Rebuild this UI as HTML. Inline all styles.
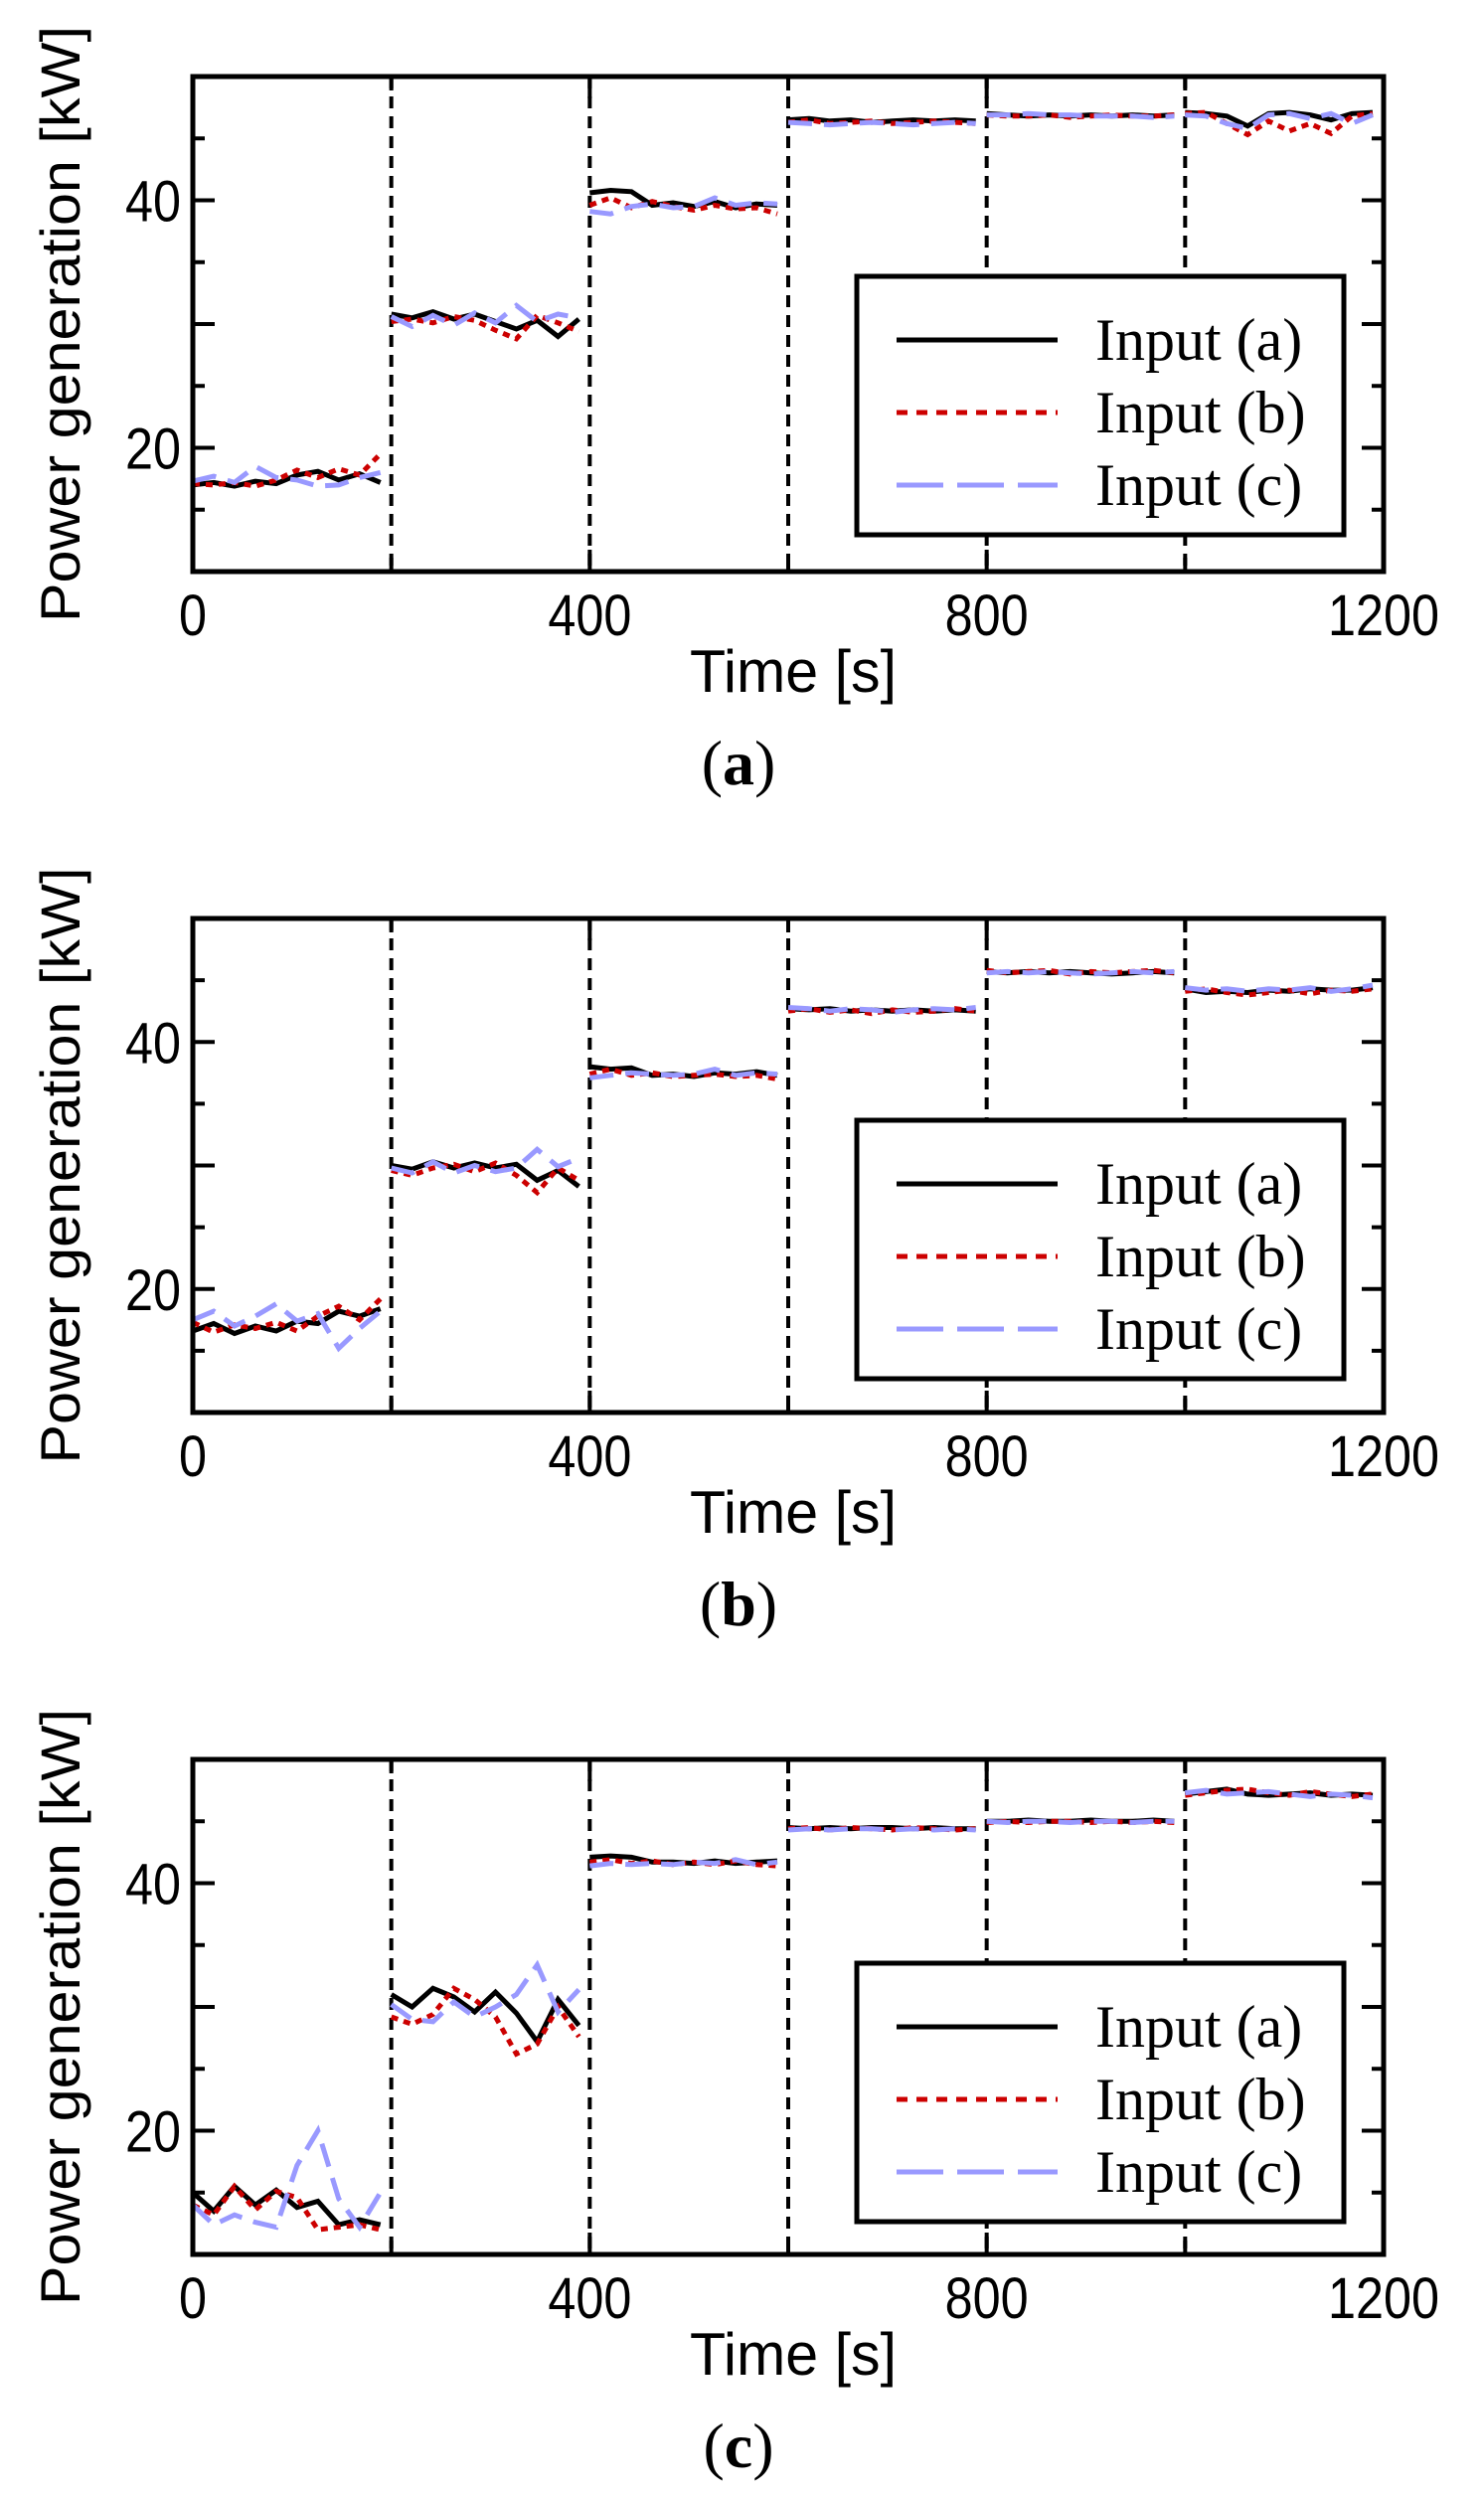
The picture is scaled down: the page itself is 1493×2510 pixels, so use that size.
<!DOCTYPE html>
<html><head><meta charset="utf-8">
<style>
html,body{margin:0;padding:0;background:#fff;}
svg{display:block;}
</style></head>
<body>
<svg id="fig" width="1493" height="2510" viewBox="0 0 1493 2510" xmlns="http://www.w3.org/2000/svg"></svg>
<script>
// time samples within a 200 s step (10 points per step)
const stepOffsets = [0, 21, 42, 63, 84, 105, 126, 147, 168, 189];
const xTicks = [0, 200, 400, 600, 800, 1000, 1200];
const xTickLabels = ["0", "", "400", "", "800", "", "1200"];
const yTicks = [15, 20, 25, 30, 35, 40, 45];
const yTickLabels = ["", "20", "", "", "", "40", ""];
const segmentBoundaries = [200, 400, 600, 800, 1000];
const seriesNames = ["Input (a)", "Input (b)", "Input (c)"];

// Panel (a)
const panelA_inputA = [17.0,17.2,16.9,17.3,17.1,17.8,18.1,17.4,17.9,17.2, 30.8,30.5,31.0,30.4,30.8,30.2,29.6,30.3,29.0,30.4, 40.6,40.8,40.7,39.6,39.8,39.5,39.9,39.4,39.7,39.6, 46.5,46.6,46.4,46.5,46.3,46.4,46.5,46.4,46.5,46.4, 47.0,46.9,46.8,46.9,46.8,46.9,46.8,46.9,46.8,46.9, 47.1,47.0,46.8,46.0,47.0,47.1,46.9,46.5,47.0,47.1];
const panelA_inputB = [17.1,17.0,17.2,16.9,17.4,18.2,17.6,18.3,17.8,19.5, 30.2,30.4,30.1,30.6,30.3,29.5,28.8,30.7,30.1,29.4, 39.6,40.2,39.4,39.9,39.5,39.2,39.6,39.3,39.4,38.9, 46.3,46.5,46.2,46.3,46.4,46.2,46.3,46.4,46.3,46.2, 46.9,46.8,46.8,46.9,46.7,46.8,46.9,46.8,46.8,46.9, 47.0,47.1,46.2,45.3,46.4,45.6,46.2,45.4,46.8,47.0];
const panelA_inputC = [17.3,17.7,17.2,18.5,17.6,17.4,16.9,17.0,17.6,18.0, 30.6,29.8,30.7,29.9,30.9,30.1,31.5,30.2,30.8,30.5, 39.1,38.9,39.5,39.7,39.4,39.5,40.2,39.6,39.8,39.7, 46.3,46.2,46.1,46.2,46.3,46.2,46.1,46.2,46.3,46.2, 46.9,46.9,47.0,46.9,46.9,46.8,46.8,46.8,46.7,46.8, 46.9,46.8,46.2,45.8,46.9,47.0,46.6,47.0,46.2,46.9];
// Panel (b)
const panelB_inputA = [16.6,17.2,16.4,17.0,16.6,17.4,17.2,18.2,17.8,18.4, 30.0,29.7,30.3,29.8,30.2,29.8,30.1,28.8,29.6,28.3, 38.0,37.8,37.9,37.3,37.4,37.2,37.5,37.4,37.6,37.3, 42.7,42.6,42.7,42.5,42.6,42.5,42.6,42.5,42.6,42.5, 45.7,45.6,45.7,45.6,45.7,45.6,45.5,45.6,45.7,45.6, 44.3,44.0,44.1,44.0,44.2,44.1,44.3,44.2,44.2,44.4];
const panelB_inputB = [17.3,16.5,17.1,16.8,17.3,16.6,17.8,18.6,17.5,19.2, 29.6,29.2,29.8,30.1,29.5,30.2,29.2,27.8,29.8,28.8, 37.4,37.8,37.3,37.5,37.2,37.3,37.4,37.2,37.3,37.0, 42.5,42.7,42.4,42.6,42.3,42.6,42.4,42.5,42.7,42.5, 45.8,45.6,45.7,45.8,45.5,45.7,45.6,45.7,45.8,45.6, 44.1,44.3,44.0,43.8,44.0,44.2,43.9,44.2,44.1,44.3];
const panelB_inputC = [17.5,18.2,17.0,17.8,18.8,17.4,18.0,15.2,16.8,18.2, 29.8,29.4,30.3,29.4,30.0,29.5,29.8,31.3,29.9,30.6, 37.1,37.3,37.5,37.4,37.3,37.4,37.8,37.3,37.5,37.4, 42.8,42.7,42.5,42.7,42.6,42.4,42.6,42.7,42.6,42.8, 45.6,45.7,45.6,45.7,45.6,45.5,45.6,45.7,45.6,45.7, 44.4,44.2,44.3,44.1,44.3,44.2,44.4,44.1,44.3,44.6];
// Panel (c)
const panelC_inputA = [15.0,13.5,15.5,14.0,15.2,13.8,14.3,12.4,12.8,12.4, 31.0,30.0,31.5,30.8,29.6,31.2,29.5,27.2,30.6,28.5, 42.1,42.2,42.1,41.7,41.7,41.6,41.8,41.6,41.7,41.8, 44.5,44.4,44.5,44.4,44.5,44.5,44.4,44.5,44.4,44.4, 45.0,45.0,45.1,45.0,45.0,45.1,45.0,45.0,45.1,45.0, 47.2,47.4,47.6,47.2,47.1,47.2,47.3,47.1,47.2,47.1];
const panelC_inputB = [14.0,13.2,15.5,13.6,15.1,14.6,12.0,12.2,12.4,12.0, 29.2,28.6,29.4,31.5,30.6,29.2,26.2,27.0,30.0,27.6, 41.7,41.9,41.6,41.8,41.5,41.7,41.5,41.8,41.5,41.4, 44.4,44.5,44.3,44.5,44.4,44.3,44.5,44.4,44.3,44.4, 44.9,45.0,44.9,45.0,45.0,44.9,45.0,44.9,45.0,44.9, 47.1,47.3,47.5,47.6,47.3,47.1,47.4,47.2,47.0,47.2];
const panelC_inputC = [14.0,12.4,13.2,12.6,12.2,17.2,20.0,14.5,12.2,15.0, 30.2,29.0,28.8,30.4,29.2,30.0,31.0,33.4,29.6,31.4, 41.4,41.6,41.5,41.6,41.5,41.7,41.6,41.9,41.5,41.7, 44.3,44.4,44.3,44.4,44.4,44.3,44.4,44.3,44.4,44.3, 45.0,44.9,45.0,45.0,44.9,45.0,45.0,44.9,45.0,45.0, 47.3,47.5,47.2,47.3,47.4,47.2,47.0,47.2,47.1,46.9];

const svgNS = "http://www.w3.org/2000/svg";
const fig = document.getElementById('fig');
function mk(tag, attrs, parent, text) {
  const e = document.createElementNS(svgNS, tag);
  for (const k in attrs) e.setAttribute(k, attrs[k]);
  if (text !== undefined) e.textContent = text;
  (parent || fig).appendChild(e);
  return e;
}
const L = 194, R = 1392, XMIN = 0, XMAX = 1200, YMIN = 10, YMAX = 50;
const styles = [
  {stroke: '#000000', dash: null},
  {stroke: '#cc0000', dash: '7 6'},
  {stroke: '#9999ff', dash: '24 12'}
];

function drawPanel(top, bottom, letter, series, legendTop) {
  const xs = v => L + (v - XMIN) / (XMAX - XMIN) * (R - L);
  const ys = v => bottom - (v - YMIN) / (YMAX - YMIN) * (bottom - top);
  const g = mk('g', {});
  
  

  segmentBoundaries.forEach(b => {
    const ln = mk('line', {x1: xs(b), x2: xs(b), y1: top, y2: bottom, stroke: '#000', 'stroke-width': 4, 'stroke-dasharray': '12 8'}, g);
    
    
  });

  series.forEach((vals, si) => {
    const sg = mk('g', {}, g);
    
    
    for (let s = 0; s < 6; s++) {
      const pts = [];
      for (let j = 0; j < stepOffsets.length; j++) {
        const t = s * 200 + stepOffsets[j];
        pts.push(xs(t).toFixed(1) + ',' + ys(vals[s * 10 + j]).toFixed(1));
      }
      const a = {points: pts.join(' '), fill: 'none', stroke: styles[si].stroke, 'stroke-width': 5, 'stroke-linejoin': 'miter'};
      if (styles[si].dash) a['stroke-dasharray'] = styles[si].dash;
      const pl = mk('polyline', a, sg);
      
      
    }
  });

  xTicks.forEach((t, i) => {
    const len = xTickLabels[i] !== '' ? 22 : 14;
    mk('line', {x1: xs(t), x2: xs(t), y1: bottom, y2: bottom - len, stroke: '#000', 'stroke-width': 4}, g);
    mk('line', {x1: xs(t), x2: xs(t), y1: top, y2: top + len, stroke: '#000', 'stroke-width': 4}, g);
    if (xTickLabels[i] !== '') {
      const tx = mk('text', {x: xs(t), y: bottom + 64, 'text-anchor': 'middle', 'font-family': 'Liberation Sans, sans-serif', 'font-size': 58, textLength: xTickLabels[i].length * 28, lengthAdjust: 'spacingAndGlyphs'}, g, xTickLabels[i]);
      
      
    }
  });
  yTicks.forEach((v, i) => {
    const len = (v % 10 === 0) ? 22 : 12;
    mk('line', {x1: L, x2: L + len, y1: ys(v), y2: ys(v), stroke: '#000', 'stroke-width': 4}, g);
    mk('line', {x1: R, x2: R - len, y1: ys(v), y2: ys(v), stroke: '#000', 'stroke-width': 4}, g);
    if (yTickLabels[i] !== '') {
      const ty = mk('text', {x: L - 12, y: ys(v) + 21, 'text-anchor': 'end', 'font-family': 'Liberation Sans, sans-serif', 'font-size': 58, textLength: yTickLabels[i].length * 28, lengthAdjust: 'spacingAndGlyphs'}, g, yTickLabels[i]);
      
      
    }
  });

  const fr = mk('rect', {x: L, y: top, width: R - L, height: bottom - top, fill: 'none', stroke: '#000', 'stroke-width': 5}, g);
  
  

  const xt = mk('text', {x: 798, y: bottom + 121, 'text-anchor': 'middle', 'font-family': 'Liberation Sans, sans-serif', 'font-size': 60, textLength: 208, lengthAdjust: 'spacingAndGlyphs'}, g, 'Time [s]');
  
  
  const cy = (top + bottom) / 2;
  const yt = mk('text', {x: 0, y: 0, transform: 'translate(80,' + cy + ') rotate(-90)', 'text-anchor': 'middle', 'font-family': 'Liberation Sans, sans-serif', 'font-size': 56, textLength: 600, lengthAdjust: 'spacingAndGlyphs'}, g, 'Power generation [kW]');
  
  

  const cap = mk('text', {x: 743, y: bottom + 214, 'text-anchor': 'middle', 'font-family': 'Liberation Serif, serif', 'font-size': 64}, g);
  
  
  mk('tspan', {}, cap, '(');
  mk('tspan', {'font-weight': 'bold'}, cap, letter);
  mk('tspan', {}, cap, ')');

  const lg = mk('g', {}, g);
  
  
  mk('rect', {x: 862, y: legendTop, width: 490, height: 260, fill: '#fff', stroke: '#000', 'stroke-width': 5}, lg);
  seriesNames.forEach((nm, si) => {
    const ry = legendTop + 64 + si * 73;
    const ent = mk('g', {}, lg);
    
    
    const a = {x1: 902, x2: 1064, y1: ry, y2: ry, stroke: styles[si].stroke, 'stroke-width': 5};
    if (si === 1) a['stroke-dasharray'] = '11 9';
    if (si === 2) a['stroke-dasharray'] = '47 14';
    mk('line', a, ent);
    mk('text', {x: 1102, y: ry + 20, 'font-family': 'Liberation Serif, serif', 'font-size': 60}, ent, nm);
  });
}

drawPanel(77, 575, 'a', [panelA_inputA, panelA_inputB, panelA_inputC], 278);
drawPanel(924, 1421, 'b', [panelB_inputA, panelB_inputB, panelB_inputC], 1127);
drawPanel(1770, 2268, 'c', [panelC_inputA, panelC_inputB, panelC_inputC], 1975);
</script>
</body></html>
